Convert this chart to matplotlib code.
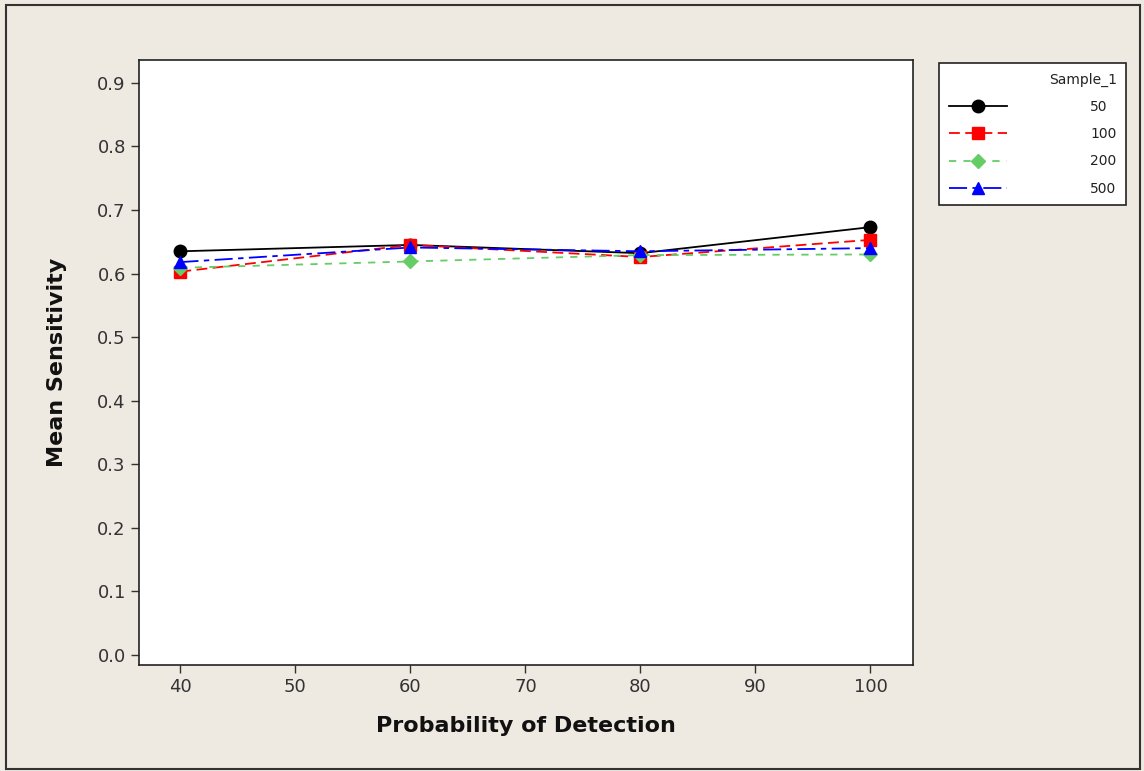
import matplotlib.pyplot as plt
from matplotlib.patches import Rectangle

# data
prob_detection = [40, 60, 80, 100]
sens_50 = [0.635, 0.645, 0.632, 0.673]
sens_100 = [0.603, 0.645, 0.626, 0.653]
sens_200 = [0.609, 0.619, 0.629, 0.630]
sens_500 = [0.618, 0.641, 0.635, 0.640]
sample_labels = ["50", "100", "200", "500"]

bg = "#EEE9E1"
fig = plt.figure(figsize=(11.44, 7.71), dpi=100, facecolor=bg)
fig.patches.append(Rectangle((6 / 1144, 2 / 771), 1134 / 1144, 764 / 771,
                             transform=fig.transFigure, fill=False,
                             edgecolor="#333333", linewidth=1.5))

ax = fig.add_axes([139 / 1144, 1 - 665 / 771, (913 - 139) / 1144, (665 - 60) / 771])
ax.set_facecolor("white")

styles = [
    dict(color="black", marker="o", linestyle="-", markersize=9),
    dict(color="#FF0000", marker="s", linestyle=(0, (6, 3)), markersize=8),
    dict(color="#66CC66", marker="D", linestyle=(0, (4, 4)), markersize=7.5),
    dict(color="#0000FF", marker="^", linestyle=(0, (10, 3, 3, 3)), markersize=9),
]
series = [sens_50, sens_100, sens_200, sens_500]
for vals, lab, st in zip(series, sample_labels, styles):
    ax.plot(prob_detection, vals, linewidth=1.3, label=lab, **st)

ax.set_xlim(36.4, 103.7)
ax.set_ylim(-0.016, 0.936)
ax.set_xticks([40, 50, 60, 70, 80, 90, 100])
ax.set_yticks([i / 10 for i in range(10)])
ax.set_yticklabels([f"{i / 10:.1f}" for i in range(10)])
ax.tick_params(direction="out", length=6, width=1, labelsize=13,
               labelcolor="#333333", color="#333333")
for s in ax.spines.values():
    s.set_color("#222222")
    s.set_linewidth(1.2)

ax.set_xlabel("Probability of Detection", fontsize=16, fontweight="bold",
              labelpad=14, color="#111111")
ax.set_ylabel("Mean Sensitivity", fontsize=16, fontweight="bold",
              labelpad=22, color="#111111")

leg = ax.legend(title="Sample_1", loc="upper left",
                bbox_to_anchor=(939 / 1144, 1 - 63 / 771), bbox_transform=fig.transFigure,
                borderaxespad=0, frameon=True, fancybox=False, edgecolor="#222222",
                fontsize=10, title_fontsize=10, markerfirst=True,
                handlelength=4.2, handletextpad=6.0, labelspacing=0.95,
                borderpad=0.7, alignment="right")
leg.get_frame().set_linewidth(1.2)
leg.get_frame().set_facecolor("white")
leg.get_frame().set_alpha(1)
leg.get_title().set_color("#222222")
for t in leg.get_texts():
    t.set_ha("right")
    t.set_color("#222222")

fig.savefig("out.png", dpi=100, facecolor=bg)
